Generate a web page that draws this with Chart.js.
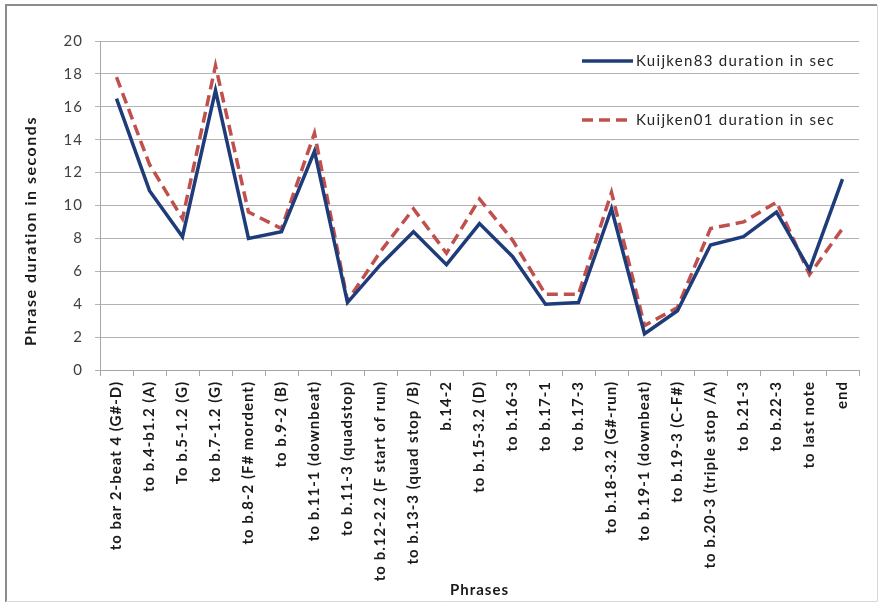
<!DOCTYPE html>
<html>
<head>
<meta charset="utf-8">
<script src="https://cdn.jsdelivr.net/npm/chart.js@4/dist/chart.umd.min.js"></script>
<style>
  html, body { margin: 0; padding: 0; background: #ffffff; }
  #wrap { position: relative; width: 880px; height: 603px; }
  canvas { display: block; }
</style>
</head>
<body>
<div id="wrap"><canvas id="chart" width="880" height="603"></canvas></div>
<script>
// Phrase boundaries in the piece
const phrases = [
  'to bar 2-beat 4 (G#-D)',
  'to b.4-b1.2 (A)',
  'To b.5-1.2 (G)',
  'to b.7-1.2 (G)',
  'to b.8-2 (F# mordent)',
  'to b.9-2 (B)',
  'to b.11-1 (downbeat)',
  'to b.11-3 (quadstop)',
  'to b.12-2.2 (F start of run)',
  'to b.13-3 (quad stop /B)',
  'b.14-2',
  'to b.15-3.2 (D)',
  'to b.16-3',
  'to b.17-1',
  'to b.17-3',
  'to b.18-3.2 (G#-run)',
  'to b.19-1 (downbeat)',
  'to b.19-3 (C-F#)',
  'to b.20-3 (triple stop /A)',
  'to b.21-3',
  'to b.22-3',
  'to last note',
  'end'
];

// Phrase durations (seconds) for the two recordings
const kuijken83 = [16.5, 10.9, 8.1, 17.0, 8.0, 8.4, 13.3, 4.1, 6.4, 8.4, 6.4, 8.9,
                   6.9, 4.0, 4.1, 9.8, 2.2, 3.6, 7.6, 8.1, 9.6, 6.1, 11.6];
const kuijken01 = [17.8, 12.5, 9.2, 18.5, 9.6, 8.6, 14.4, 4.2, 7.2, 9.8, 7.1, 10.4,
                   7.9, 4.6, 4.6, 10.8, 2.7, 3.8, 8.6, 9.0, 10.2, 5.8, 8.6];

const seriesNames = ['Kuijken83 duration in sec', 'Kuijken01 duration in sec'];
const yTicks = [0, 2, 4, 6, 8, 10, 12, 14, 16, 18, 20];
const yTitle = 'Phrase duration in seconds';

const FONT = 'Lato, "Liberation Sans", sans-serif';
const BLUE = '#1f3c7a';
const RED = '#c0504d';

// Outer frame around the whole chart; also sets the text tracking
const framePlugin = {
  id: 'frame',
  beforeUpdate(chart) { chart.ctx.letterSpacing = '1px'; },
  beforeDraw(chart) {
    const ctx = chart.ctx;
    ctx.letterSpacing = '1px';
    ctx.save();
    ctx.fillStyle = '#ffffff';
    ctx.fillRect(0, 0, chart.width, chart.height);
    ctx.strokeStyle = '#8c8c8c';
    ctx.lineWidth = 2;
    ctx.beginPath();
    ctx.moveTo(6, 602);
    ctx.lineTo(6, 5);
    ctx.lineTo(877, 5);
    ctx.stroke();
    ctx.strokeStyle = '#d8d8d8';
    ctx.lineWidth = 1;
    ctx.beginPath();
    ctx.moveTo(877.5, 5);
    ctx.lineTo(877.5, 601.5);
    ctx.lineTo(6, 601.5);
    ctx.stroke();
    ctx.restore();
  }
};

// Vertical value-axis title
const yTitlePlugin = {
  id: 'yTitle',
  afterDraw(chart) {
    const ctx = chart.ctx;
    ctx.save();
    ctx.translate(31, 231);
    ctx.rotate(-Math.PI / 2);
    ctx.font = 'bold 16px ' + FONT;
    ctx.letterSpacing = '1.5px';
    ctx.fillStyle = '#1a1a1a';
    ctx.textAlign = 'center';
    ctx.textBaseline = 'middle';
    ctx.fillText(yTitle, 0, 0);
    ctx.restore();
  }
};

// Legend stacked in the upper right of the plot
const legendPlugin = {
  id: 'stackedLegend',
  afterDatasetsDraw(chart) {
    const ctx = chart.ctx;
    const rows = [61, 120];
    ctx.save();
    chart.data.datasets.forEach((ds, i) => {
      const y = rows[i];
      ctx.strokeStyle = ds.borderColor;
      ctx.lineWidth = 3.5;
      ctx.setLineDash(ds.borderDash || []);
      ctx.beginPath();
      ctx.moveTo(582, y);
      ctx.lineTo(633, y);
      ctx.stroke();
      ctx.setLineDash([]);
      ctx.fillStyle = '#262626';
      ctx.font = '15px ' + FONT;
      ctx.letterSpacing = '1.3px';
      ctx.textBaseline = 'middle';
      ctx.textAlign = 'left';
      ctx.fillText(ds.label, 636, y);
    });
    ctx.restore();
  }
};

new Chart(document.getElementById('chart'), {
  type: 'line',
  data: {
    labels: phrases,
    datasets: [
      {
        label: seriesNames[0],
        data: kuijken83,
        borderColor: BLUE,
        backgroundColor: BLUE,
        borderWidth: 3.5,
        pointRadius: 0,
        tension: 0,
        fill: false
      },
      {
        label: seriesNames[1],
        data: kuijken01,
        borderColor: RED,
        backgroundColor: RED,
        borderWidth: 3.5,
        borderDash: [11, 6],
        pointRadius: 0,
        tension: 0,
        fill: false
      }
    ]
  },
  options: {
    responsive: false,
    animation: false,
    devicePixelRatio: 1,
    layout: { padding: { left: 6, right: 21, top: 41, bottom: 0 } },
    plugins: {
      legend: { display: false },
      tooltip: { enabled: false }
    },
    scales: {
      x: {
        type: 'category',
        offset: true,
        afterFit(scale) { scale.height = 233; },
        grid: {
          display: true,
          offset: true,
          drawOnChartArea: false,
          drawTicks: true,
          tickLength: 6,
          color: '#a6a6a6'
        },
        border: { display: true, color: '#a6a6a6', width: 1 },
        ticks: {
          autoSkip: false,
          minRotation: 90,
          maxRotation: 90,
          padding: 5,
          color: '#1a1a1a',
          font: { family: FONT, size: 15, weight: 'bold' }
        },
        title: {
          display: true,
          text: 'Phrases',
          color: '#1a1a1a',
          font: { family: FONT, size: 15, weight: 'bold' },
          padding: { top: 0, bottom: 4 }
        }
      },
      y: {
        min: 0,
        max: 20,
        afterFit(scale) { scale.width = 94; },
        afterBuildTicks(scale) { scale.ticks = yTicks.map(v => ({ value: v })); },
        grid: {
          color: '#b3b3b3',
          lineWidth: 1,
          drawTicks: true,
          tickLength: 5
        },
        border: { display: true, color: '#a6a6a6', width: 1 },
        ticks: {
          padding: 12,
          color: '#404040',
          font: { family: FONT, size: 15 }
        },
        title: { display: false }
      }
    }
  },
  plugins: [framePlugin, yTitlePlugin, legendPlugin]
});
</script>
</body>
</html>
